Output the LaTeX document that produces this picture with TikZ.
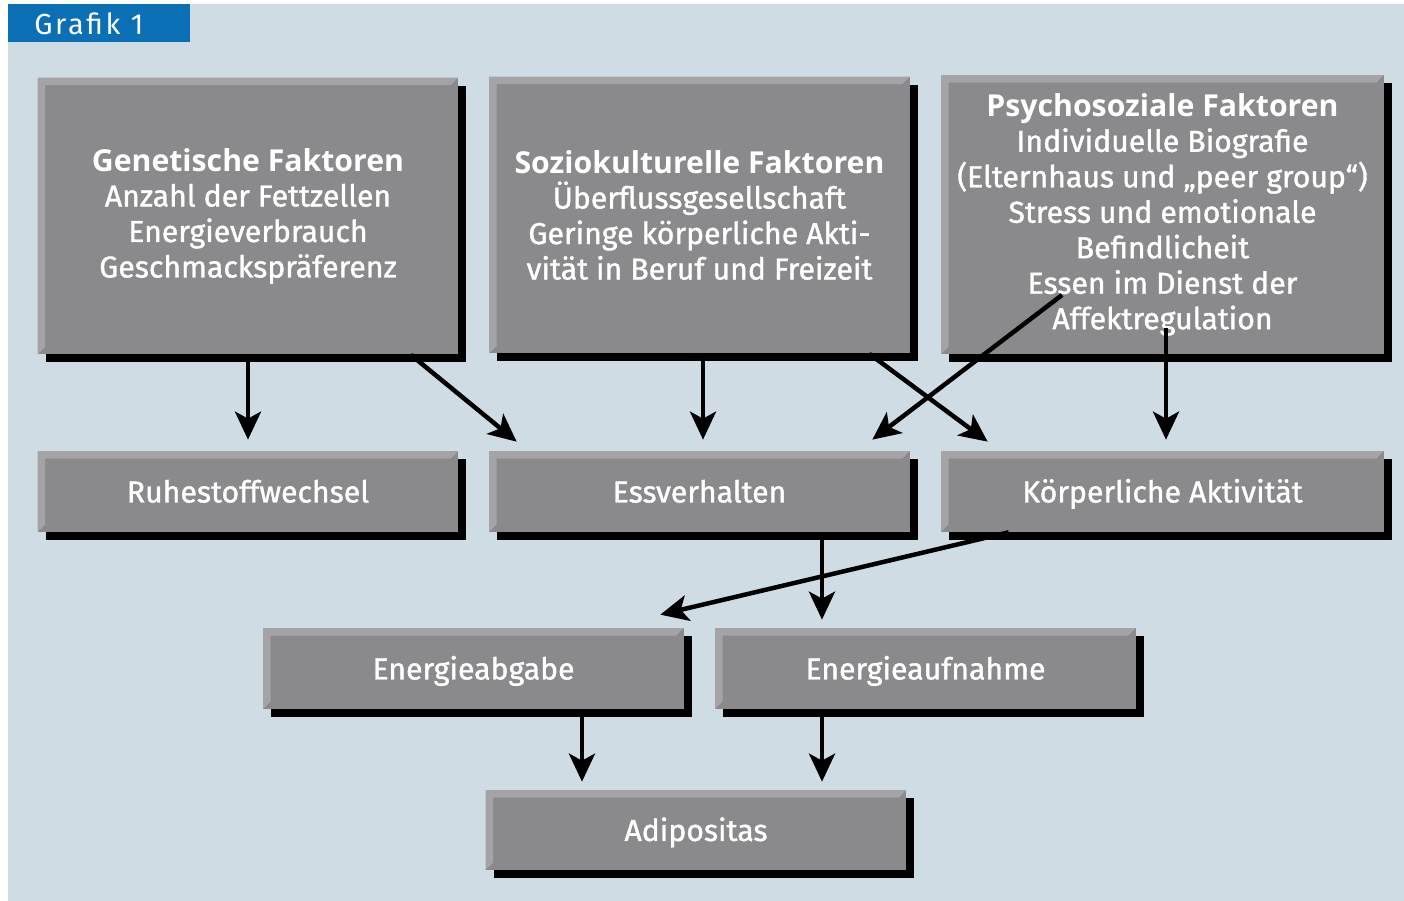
\documentclass[tikz,border=0pt]{standalone}
\usepackage{fontspec}
\setmainfont{Fira Sans}[UprightFeatures={FakeBold=1.2}]
\newfontfamily\titlefont{Open Sans}
\newfontfamily\hdrfont{Fira Sans}[LetterSpace=9]
\usetikzlibrary{arrows.meta,shadows}
\definecolor{bgblue}{HTML}{D0DCE4}
\definecolor{hblue}{HTML}{0A6FB4}
\definecolor{gbox}{HTML}{8A8A8C}
\definecolor{glight}{HTML}{A4A4A6}
\newcommand{\ttl}[1]{{\titlefont\bfseries\fontsize{17.2}{20.2}\selectfont #1}}
\tikzset{
  box/.style={fill=gbox,text=white,align=center,inner sep=0pt,font=\fontsize{17.2}{20.2}\selectfont,
    general shadow={fill=black,shadow xshift=0.16cm,shadow yshift=-0.16cm},
    path picture={\fill[glight] (path picture bounding box.north west) -- (path picture bounding box.north east)
      -- ([xshift=-0.15cm,yshift=-0.15cm]path picture bounding box.north east) -- ([xshift=0.15cm,yshift=-0.15cm]path picture bounding box.north west)
      -- ([xshift=0.15cm,yshift=0.15cm]path picture bounding box.south west) -- (path picture bounding box.south west) -- cycle;}},
  big/.style={box,minimum width=8.42cm,minimum height=5.54cm},
  flat/.style={box,minimum width=8.42cm,minimum height=1.62cm,text height=1.45em,text depth=0.2em},
  arr/.style={-{Stealth[length=0.56cm,width=0.52cm,inset=0.14cm]},line width=0.09cm,draw=black},
}
\begin{document}
\begin{tikzpicture}[x=0.02cm,y=-0.02cm]
  \useasboundingbox (0,0) rectangle (1404,901);
  \fill[white] (0,0) rectangle (1404,901);
  \fill[bgblue] (8,4) rectangle (1404,901);
  \fill[hblue] (8,4) rectangle (190,42);
  \node[anchor=west,text=white,inner sep=0pt,font=\hdrfont\fontsize{16.5}{18}\selectfont] (hdr) at (34,24) {Grafik 1};
  % Faktoren
  \node[big] (gen) at (248,216) {\ttl{Genetische Faktoren}\\Anzahl der Fettzellen\\Energieverbrauch\\Geschmackspräferenz};
  \node[big] (soz) at (699.5,215) {\ttl{Soziokulturelle Faktoren}\\Überflussgesellschaft\\Geringe körperliche Akti-\\vität in Beruf und Freizeit};
  \node[big,minimum width=8.86cm,minimum height=5.58cm] (psy) at (1162.5,214.5) {\ttl{Psychosoziale Faktoren}\\Individuelle Biografie\\(Elternhaus und „peer group“)\\Stress und emotionale\\Befindlicheit\\Essen im Dienst der\\Affektregulation};
  % mittlere Reihe
  \node[flat] (ruhe) at (248,491.5) {Ruhestoffwechsel};
  \node[flat] (ess) at (699.5,491.5) {Essverhalten};
  \node[flat,minimum width=8.86cm] (koerp) at (1162.5,491.5) {Körperliche Aktivität};
  \node[flat] (abg) at (473.5,668.5) {Energieabgabe};
  \node[flat] (auf) at (925.5,668.5) {Energieaufnahme};
  \node[flat,minimum height=1.6cm] (adi) at (696,830) {Adipositas};
  % Pfeile
  \draw[arr,shorten >=0.22cm] (gen.south) -- (ruhe.north);
  \draw[arr] ([xshift=-0.96cm]gen.south east) -- ([xshift=0.56cm,yshift=0.18cm]ess.north west);
  \draw[arr,shorten >=0.22cm] ([xshift=0.07cm]soz.south) -- ([xshift=0.07cm]ess.north);
  \draw[arr] ([xshift=-0.82cm]soz.south east) -- ([xshift=0.94cm,yshift=0.18cm]koerp.north west);
  \draw[arr] ([xshift=-2.01cm,yshift=-1.61cm]psy.center) -- ([xshift=-0.76cm,yshift=0.22cm]ess.north east);
  \draw[arr,shorten >=0.22cm] ([xshift=0.07cm,yshift=-2.27cm]psy.center) -- ([xshift=0.07cm]koerp.north);
  \draw[arr,shorten >=0.16cm] ([xshift=2.45cm]ess.south) -- ([xshift=2.45cm]ess.south |- auf.north);
  \draw[arr] ([xshift=1.36cm]koerp.south west) -- ([xshift=-0.48cm,yshift=0.26cm]abg.north east);
  \draw[arr,shorten >=0.16cm] ([xshift=2.17cm]abg.south) -- ([xshift=2.17cm]abg.south |- adi.north);
  \draw[arr,shorten >=0.16cm] ([xshift=-2.07cm]auf.south) -- ([xshift=-2.07cm]auf.south |- adi.north);
\end{tikzpicture}
\end{document}
